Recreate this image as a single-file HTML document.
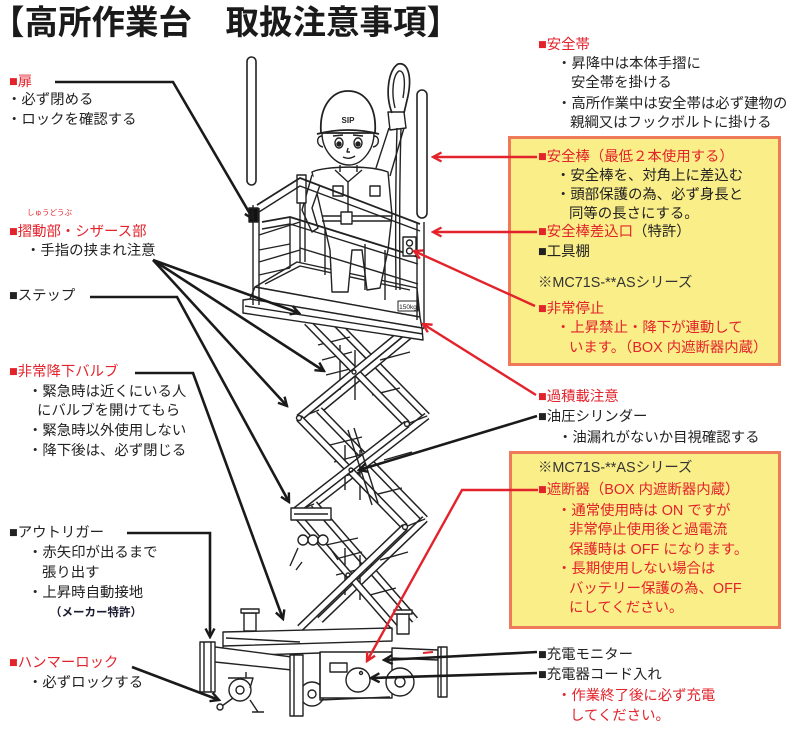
<!DOCTYPE html>
<html><head><meta charset="utf-8">
<style>
html,body{margin:0;padding:0;background:#fff;}
#c{position:relative;width:800px;height:731px;overflow:hidden;background:#fff;font-family:"Liberation Sans","Noto Sans CJK JP",sans-serif;}
.t{position:absolute;font-size:14.4px;line-height:15px;white-space:nowrap;color:#222;}
.r{color:#e3232b;}
.k{color:#222;}
.box{position:absolute;background:#faee88;border:3px solid #ef7a5a;box-sizing:border-box;}
svg{position:absolute;left:0;top:0;}
.title{position:absolute;left:-9px;top:7px;font-size:33.5px;line-height:34px;font-weight:bold;color:#1a1a1a;white-space:nowrap;}
.bo{stroke:#222;stroke-width:8;fill:none;}
.bi{stroke:#fff;stroke-width:5;fill:none;}
</style></head><body><div id="c">

<div class="box" style="left:508px;top:136px;width:273px;height:230px;"></div>
<div class="box" style="left:509px;top:451px;width:272px;height:178px;"></div>

<svg width="800" height="731" viewBox="0 0 800 731">
<defs>
<marker id="ak" viewBox="0 0 12 12" refX="10" refY="6" markerWidth="12" markerHeight="12" markerUnits="userSpaceOnUse" orient="auto"><path d="M1.5,1.5 L10,6 L1.5,10.5" fill="none" stroke="#1a1a1a" stroke-width="2.4"/></marker>
<marker id="ar" viewBox="0 0 12 12" refX="10" refY="6" markerWidth="12" markerHeight="12" markerUnits="userSpaceOnUse" orient="auto"><path d="M1.5,1.5 L10,6 L1.5,10.5" fill="none" stroke="#e3232b" stroke-width="2.4"/></marker>
</defs>

<!-- DRAWING -->
<g fill="none" stroke="#222" stroke-width="1.4" stroke-linejoin="round">
<!-- poles -->
<rect x="247" y="57" width="9" height="128" rx="4.5" fill="#fff" stroke-width="1.6"/>
<rect x="417" y="90" width="10" height="128" rx="5" fill="#fff" stroke-width="1.6"/>

<!-- scissors back set -->
<path class="bo" d="M327,314 L427,416"/><path class="bi" d="M327,314 L427,416"/>
<path class="bo" d="M422,325 L319,410"/><path class="bi" d="M422,325 L319,410"/>
<path class="bo" d="M319,410 L425,519"/><path class="bi" d="M319,410 L425,519"/>
<path class="bo" d="M427,416 L314,504"/><path class="bi" d="M427,416 L314,504"/>
<path class="bo" d="M314,504 L415,620"/><path class="bi" d="M314,504 L415,620"/>
<path class="bo" d="M425,519 L320,620"/><path class="bi" d="M425,519 L320,620"/>
<!-- rungs / ladder -->
<path d="M318,345 L350,337 M322,360 L352,352 M326,375 L354,368 M330,445 L362,437 M334,462 L364,454 M338,478 L366,470 M326,545 L358,538 M332,560 L362,552 M336,575 L364,568 M380,360 L410,352 M384,460 L412,452 M380,560 L408,552 M372,395 L400,388 M374,495 L402,488 M370,595 L396,588"/>
<path d="M340,390 L340,345 M355,400 L355,350 M345,490 L345,445 M360,500 L360,450 M345,595 L345,548 M360,600 L360,555"/>
<path d="M299,418 L319,410 M407,424 L427,416 M294,512 L314,504 M405,527 L425,519 M307,322 L327,314 M402,333 L422,325"/>
<!-- scissors front set -->
<path class="bo" d="M307,322 L407,424"/><path class="bi" d="M307,322 L407,424"/>
<path class="bo" d="M402,333 L299,418"/><path class="bi" d="M402,333 L299,418"/>
<path class="bo" d="M299,418 L405,527"/><path class="bi" d="M299,418 L405,527"/>
<path class="bo" d="M407,424 L294,512"/><path class="bi" d="M407,424 L294,512"/>
<path class="bo" d="M294,512 L395,628"/><path class="bi" d="M294,512 L395,628"/>
<path class="bo" d="M405,527 L300,628"/><path class="bi" d="M405,527 L300,628"/>
<circle cx="299" cy="418" r="2.5" fill="#fff"/><circle cx="407" cy="424" r="2.5" fill="#fff"/>
<circle cx="294" cy="512" r="2.5" fill="#fff"/><circle cx="405" cy="527" r="2.5" fill="#fff"/>
<circle cx="354" cy="372" r="2"/><circle cx="351" cy="470" r="2"/><circle cx="348" cy="575" r="2"/>
<!-- hydraulic cylinder -->
<path d="M348,430 L372,505 M354,428 L378,503" />
<!-- valve bracket -->
<rect x="291" y="508" width="40" height="12" fill="#fff"/>
<path d="M294,514 L328,514"/>
<circle cx="303" cy="540" r="5" fill="#fff"/><circle cx="313" cy="540" r="5" fill="#fff"/><circle cx="323" cy="540" r="5" fill="#fff"/>
<path d="M298,548 L290,566 M330,548 L338,560 M296,570 L302,562"/>

<!-- base -->
<rect x="244" y="613" width="12" height="18" fill="#fff"/><rect x="241" y="609" width="18" height="4" fill="#fff"/>
<rect x="397" y="614" width="12" height="20" fill="#fff"/><rect x="394" y="610" width="18" height="4" fill="#fff"/>
<path d="M223,632 L392,628 L392,641 L223,646 Z" fill="#fff"/>
<path d="M223,646 L223,656 L320,653 M226,638 L300,642"/>
<path d="M200,645 L292,657 L292,670 L215,662 Z" fill="#fff"/>
<rect x="200" y="642" width="15" height="50" fill="#fff"/>
<path d="M204,642 L204,692 M211,642 L211,692"/>
<circle cx="240" cy="690" r="11" fill="#fff"/><circle cx="240" cy="690" r="4"/>
<path d="M228,678 L253,678 L250,688 M246,672 L246,678"/>
<path d="M233,698 L222,706"/><circle cx="220" cy="707" r="3" fill="#fff"/>
<path d="M250,700 L258,712 M252,712 L264,712"/>
<circle cx="312" cy="694" r="12" fill="#fff"/><circle cx="312" cy="694" r="4"/>
<rect x="290" y="655" width="13" height="61" fill="#fff"/>
<path d="M294,655 L294,716"/>
<rect x="320" y="652" width="72" height="46" fill="#fff"/>
<path d="M320,652 L320,700 L390,697"/>
<rect x="330" y="663" width="17" height="9"/>
<circle cx="358" cy="680" r="12" fill="#fff"/><circle cx="361" cy="673" r="1.5"/>
<path d="M392,648 L438,650 L438,660 L392,658 Z" fill="#fff"/>
<circle cx="400" cy="682" r="14" fill="#fff"/><circle cx="400" cy="682" r="5"/>
<rect x="438" y="647" width="9" height="50" fill="#fff"/>
<path d="M441,647 L441,697"/>
<path d="M423,653 L433,652" stroke="#e3232b" stroke-width="2"/>

<!-- deck -->
<path d="M255,287 L297,262 L417,288 L420,317 Z" fill="#fff"/>
<path d="M265,284 L300,266 L410,290"/>
<path d="M255,287 L420,317 L422,328 L250,299 Z" fill="#fff"/>
<path d="M243,300 L250,299 L422,328 L423,340 L243,313 Z" fill="#fff"/>
<path d="M245,306 L423,334"/>
<rect x="398" y="301" width="20" height="10" fill="#fff" stroke-width="1"/>

<!-- man -->
<path d="M312,172 C325,166 370,165 388,172 L392,215 L388,250 L380,288 L367,290 L362,250 L352,250 L348,292 L332,292 L330,250 L322,215 Z" fill="#fff"/>
<path d="M312,175 L302,210 L312,232 L318,228 L312,208 L320,185" fill="#fff"/>
<path d="M335,170 L348,182 L362,170 M348,182 L348,212"/>
<rect x="333" y="186" width="10" height="10"/><rect x="370" y="186" width="10" height="10"/>
<path d="M322,216 L392,216 M322,221 L392,221"/>
<rect x="341" y="212" width="11" height="12" fill="#fff"/>
<path d="M340,165 L340,172 M357,165 L357,172"/>
<path d="M322,133 C322,150 335,165 349,165 C362,165 374,150 374,133" fill="#fff"/>
<path d="M322,136 C316,136 316,146 323,147 M374,136 C380,136 380,146 373,147"/>
<ellipse cx="339" cy="143" rx="4" ry="5" fill="#fff"/><ellipse cx="358" cy="143" rx="4" ry="5" fill="#fff"/>
<circle cx="339" cy="144" r="2" fill="#222"/><circle cx="358" cy="144" r="2" fill="#222"/>
<path d="M333,136 L343,135 M353,135 L363,136 M348,148 L347,152 L350,152 M343,157 Q349,160 355,156"/>
<path d="M321,133 C319,105 333,91 348,91 C364,91 377,105 375,133 Z" fill="#fff" stroke-width="1.8"/>
<path d="M317,134 Q348,126 379,134" stroke-width="1.8"/>
<text x="348" y="123" font-family="Liberation Sans, sans-serif" font-size="8" font-weight="bold" text-anchor="middle" fill="#222" stroke="none">SIP</text>
<!-- raised arm, hook, rope -->
<path d="M376,168 L389,128 M390,176 L404,128" fill="#fff"/>
<path d="M388,112 L404,112 L406,128 L390,130 Z" fill="#fff"/>
<path d="M392,113 C385,95 388,70 398,64 C408,62 412,76 408,96 L404,113" stroke-width="1.7"/>
<path d="M395,108 C391,92 393,75 399,71 C404,70 406,80 403,98"/>
<path d="M397,128 Q395,200 396,290 M401,128 Q399,200 400,290"/>

<!-- cage -->
<path d="M253,205 L253,305 M259,208 L259,305"/>
<rect x="249" y="208" width="9" height="14" fill="#111"/>
<rect x="297" y="175" width="9" height="28" fill="#fff"/>
<path d="M300,203 L300,262 M305,203 L305,262"/>
<path d="M257,205 L300,178 L420,224" stroke-width="1.8"/>
<path d="M259,212 L300,186 L420,231"/>
<path d="M259,235 L300,222 M259,262 L300,250 M259,250 L290,244 M259,275 L290,268"/>
<path d="M290,217 L290,268 M385,250 L385,300 M325,228 L325,275 M365,244 L365,290"/>
<path d="M262,222 L290,217 L418,257" stroke-width="1.8"/>
<path d="M262,229 L290,224 L418,264"/>
<path d="M300,248 L418,284"/>
<path d="M417,222 L417,320 M424,222 L424,325"/>
<rect x="403" y="237" width="13" height="19" fill="#fff"/>
<circle cx="409.5" cy="243" r="3"/><circle cx="409.5" cy="251" r="3"/>
</g>
<text x="408" y="309" font-family="Liberation Sans, sans-serif" font-size="6.5" text-anchor="middle" fill="#222">150kg</text>

<!-- CONNECTORS -->
<g fill="none" stroke="#1a1a1a" stroke-width="2.6" stroke-linejoin="miter">
<path d="M55,82 L173,82 L253,219" marker-end="url(#ak)"/>
<path d="M153,260 L299,313" marker-end="url(#ak)"/>
<path d="M153,260 L324,371" marker-end="url(#ak)"/>
<path d="M153,260 L287,406" marker-end="url(#ak)"/>
<path d="M90,297 L177,297 L289,502" marker-end="url(#ak)"/>
<path d="M135,373 L193,373 L283,619" marker-end="url(#ak)"/>
<path d="M127,533 L210,533 L210,637" marker-end="url(#ak)"/>
<path d="M132,667 L219,700" marker-end="url(#ak)"/>
<path d="M537,416 L359,470" marker-end="url(#ak)"/>
<path d="M537,652 L384,660" marker-end="url(#ak)"/>
<path d="M537,673 L371,678" marker-end="url(#ak)"/>
</g>
<g fill="none" stroke="#e3232b" stroke-width="2.4">
<path d="M537,157 L433,157" marker-end="url(#ar)"/>
<path d="M537,232 L433,232" marker-end="url(#ar)"/>
<path d="M535,306 L414,251" marker-end="url(#ar)"/>
<path d="M536,395 L423,324" marker-end="url(#ar)"/>
<path d="M538,490 L462,490 L367,661" marker-end="url(#ar)"/>
</g>
</svg>

<div class="title">【高所作業台　取扱注意事項】</div>

<!-- left labels -->
<div class="t r" style="left:9px;top:75px;">■扉</div>
<div class="t" style="left:7px;top:93px;">・必ず閉める</div>
<div class="t" style="left:7px;top:113px;">・ロックを確認する</div>
<div class="t r" style="left:27px;top:209px;font-size:7.5px;line-height:8px;">しゅうどうぶ</div>
<div class="t r" style="left:9px;top:225px;">■摺動部・シザース部</div>
<div class="t" style="left:26px;top:244px;">・手指の挟まれ注意</div>
<div class="t" style="left:9px;top:289px;">■ステップ</div>
<div class="t r" style="left:9px;top:365px;">■非常降下バルブ</div>
<div class="t" style="left:28px;top:385px;">・緊急時は近くにいる人</div>
<div class="t" style="left:37px;top:404px;">にバルブを開けてもら</div>
<div class="t" style="left:28px;top:424px;">・緊急時以外使用しない</div>
<div class="t" style="left:28px;top:444px;">・降下後は、必ず閉じる</div>
<div class="t" style="left:9px;top:526px;">■アウトリガー</div>
<div class="t" style="left:28px;top:546px;">・赤矢印が出るまで</div>
<div class="t" style="left:42px;top:566px;">張り出す</div>
<div class="t" style="left:28px;top:586px;">・上昇時自動接地</div>
<div class="t" style="left:50px;top:607px;font-size:11.5px;line-height:12px;font-weight:bold;color:#1a1a30;">（メーカー特許）</div>
<div class="t r" style="left:9px;top:656px;">■ハンマーロック</div>
<div class="t" style="left:28px;top:676px;">・必ずロックする</div>

<!-- right labels -->
<div class="t r" style="left:538px;top:38px;">■安全帯</div>
<div class="t" style="left:557px;top:57px;">・昇降中は本体手摺に</div>
<div class="t" style="left:571px;top:76px;">安全帯を掛ける</div>
<div class="t" style="left:557px;top:97px;">・高所作業中は安全帯は必ず建物の</div>
<div class="t" style="left:570px;top:116px;">親綱又はフックボルトに掛ける</div>

<div class="t r" style="left:538px;top:150px;">■安全棒（最低２本使用する）</div>
<div class="t" style="left:556px;top:169px;">・安全棒を、対角上に差込む</div>
<div class="t" style="left:556px;top:188px;">・頭部保護の為、必ず身長と</div>
<div class="t" style="left:569px;top:207px;">同等の長さにする。</div>
<div class="t r" style="left:538px;top:225px;">■安全棒差込口<span class="k">（特許）</span></div>
<div class="t" style="left:538px;top:245px;">■工具棚</div>
<div class="t" style="left:538px;top:276px;color:#333;">※MC71S-**ASシリーズ</div>
<div class="t r" style="left:538px;top:302px;">■非常停止</div>
<div class="t r" style="left:556px;top:321px;">・上昇禁止・降下が連動して</div>
<div class="t r" style="left:569px;top:341px;">います。（BOX 内遮断器内蔵）</div>

<div class="t r" style="left:538px;top:390px;">■過積載注意</div>
<div class="t" style="left:538px;top:410px;">■油圧シリンダー</div>
<div class="t" style="left:558px;top:431px;">・油漏れがないか目視確認する</div>

<div class="t" style="left:538px;top:461px;color:#333;">※MC71S-**ASシリーズ</div>
<div class="t r" style="left:538px;top:483px;">■遮断器（BOX 内遮断器内蔵）</div>
<div class="t r" style="left:557px;top:504px;">・通常使用時は ON ですが</div>
<div class="t r" style="left:569px;top:523px;">非常停止使用後と過電流</div>
<div class="t r" style="left:569px;top:543px;">保護時は OFF になります。</div>
<div class="t r" style="left:557px;top:562px;">・長期使用しない場合は</div>
<div class="t r" style="left:569px;top:582px;">バッテリー保護の為、OFF</div>
<div class="t r" style="left:569px;top:601px;">にしてください。</div>

<div class="t" style="left:538px;top:648px;">■充電モニター</div>
<div class="t" style="left:538px;top:668px;">■充電器コード入れ</div>
<div class="t r" style="left:557px;top:689px;">・作業終了後に必ず充電</div>
<div class="t r" style="left:570px;top:709px;">してください。</div>

</div></body></html>
